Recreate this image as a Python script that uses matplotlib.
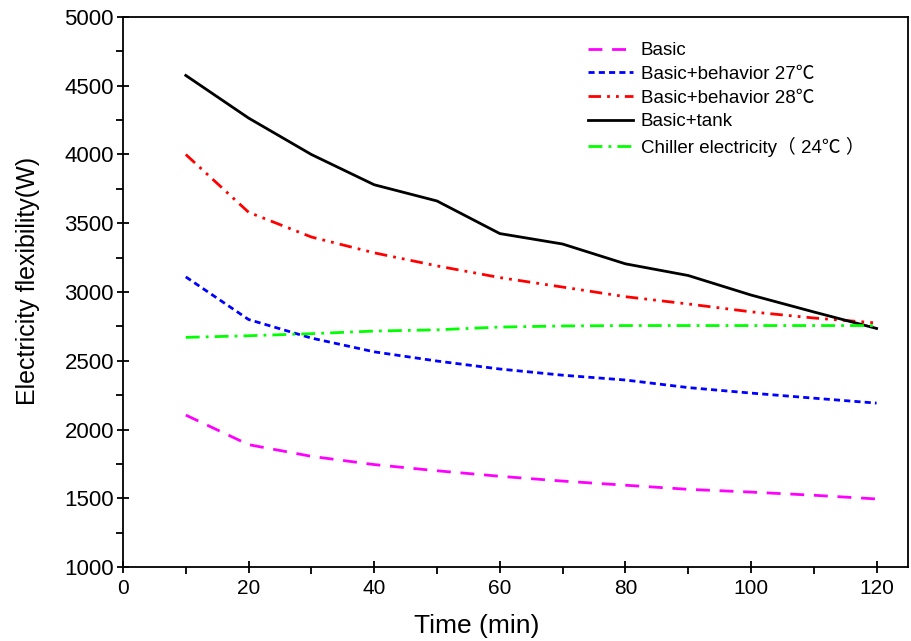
import numpy as np
import matplotlib.pyplot as plt
from matplotlib.ticker import MultipleLocator

# tempo (min)
tempo = [10, 20, 30, 40, 50, 60, 70, 80, 90, 100, 110, 120]

# series (W)
basic = [2105, 1890, 1805, 1745, 1700, 1660, 1625, 1595, 1565, 1545, 1522, 1495]
behavior27 = [3110, 2800, 2665, 2565, 2498, 2440, 2395, 2360, 2305, 2265, 2228, 2192]
behavior28 = [4000, 3580, 3400, 3285, 3190, 3105, 3036, 2966, 2913, 2856, 2811, 2775]
tank = [4575, 4265, 4000, 3780, 3662, 3425, 3349, 3205, 3120, 2978, 2855, 2735]
chiller = [2670, 2682, 2697, 2716, 2725, 2745, 2753, 2756, 2756, 2756, 2756, 2756]

rotulos = ['Basic', 'Basic+behavior 27℃', 'Basic+behavior 28℃', 'Basic+tank',
           'Chiller electricity（ 24℃ ）']

plt.rcParams['font.family'] = ['Liberation Sans', 'Noto Sans CJK SC', 'DejaVu Sans']

fig = plt.figure(figsize=(9.11, 6.41), dpi=100)
ax = fig.add_axes([0.135, 0.1154, 0.8617, 0.8581])

lw = 2.0
ax.plot(tempo, basic, color='#ff00ff', lw=lw, dashes=(5, 3.5), label=rotulos[0])
ax.plot(tempo, behavior27, color='#0000ff', lw=lw, dashes=(2.2, 1.5), label=rotulos[1])
ax.plot(tempo, behavior28, color='#ff0000', lw=lw, dashes=(4.5, 2.2, 1, 2.2, 1, 2.2), label=rotulos[2])
ax.plot(tempo, tank, color='black', lw=lw, label=rotulos[3])
ax.plot(tempo, chiller, color='#00ff00', lw=lw, dashes=(5, 2.2, 1, 2.2), label=rotulos[4])

ax.set_xlim(0, 125)
ax.set_ylim(1000, 5000)
ax.xaxis.set_major_locator(MultipleLocator(20))
ax.xaxis.set_minor_locator(MultipleLocator(10))
ax.yaxis.set_major_locator(MultipleLocator(500))
ax.yaxis.set_minor_locator(MultipleLocator(250))
ax.tick_params(which='major', direction='inout', length=9, width=1.3)
ax.tick_params(which='minor', direction='out', length=5, width=1.3)
ax.tick_params(axis='y', labelsize=16, pad=2)
ax.tick_params(axis='x', labelsize=15, pad=4)
for s in ax.spines.values():
    s.set_linewidth(1.3)

ax.set_xlabel('Time (min)', fontsize=19)
ax.xaxis.set_label_coords(0.451, -0.085)
ax.set_ylabel('Electricity flexibility(W)', fontsize=18)
ax.yaxis.set_label_coords(-0.106, 0.52)

ax.legend(loc='upper left', bbox_to_anchor=(0.571, 0.985), frameon=False, fontsize=13.5,
          handlelength=2.4, handletextpad=0.4, labelspacing=0.35)

plt.savefig('out.png', dpi=100)
